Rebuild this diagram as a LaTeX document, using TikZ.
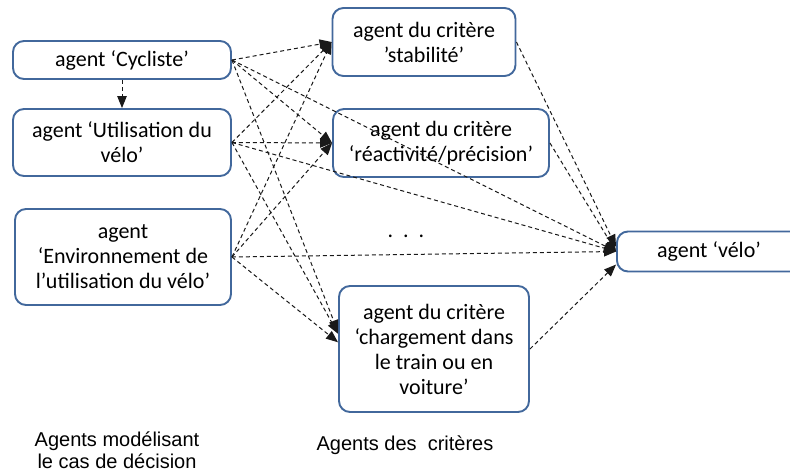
\documentclass[tikz,border=0pt]{standalone}
\usepackage{fontspec}
\setmainfont{Carlito}
\newfontfamily\capfont{Liberation Sans}
\usetikzlibrary{arrows.meta}
\definecolor{boxblue}{RGB}{66,104,156}
\tikzset{
  agentbox/.style={draw=boxblue, line width=1.9pt, rounded corners=11pt, fill=white,
    align=center, inner sep=0pt, font=\fontsize{22}{25}\selectfont, text=black},
  link/.style={draw=black!90, line width=1pt, dash pattern=on 4pt off 3pt,
    -{Triangle[length=12pt,width=9.5pt]}},
  caption/.style={align=center, font=\capfont\fontsize{20}{22}\selectfont, text=black, inner sep=0pt}
}
\begin{document}
\begin{tikzpicture}[x=1pt,y=-1pt]
\useasboundingbox (0,0) rectangle (790,476);
\fill[white] (0,0) rectangle (790,476);
\begin{scope}
\clip (0,0) rectangle (790,476);
\node[agentbox, minimum width=218pt, minimum height=38pt] (cyc) at (122,60) {agent ‘Cycliste’};
\node[agentbox, minimum width=218pt, minimum height=67pt] (uti) at (122,142.5) {agent ‘Utilisation du\\vélo’};
\node[agentbox, minimum width=216pt, minimum height=96pt] (env) at (123,257) {agent\\‘Environnement de\\l’utilisation du vélo’};
\node[agentbox, minimum width=183pt, minimum height=68pt] (sta) at (424,42) {agent du critère\\’stabilité’};
\node[agentbox, minimum width=216pt, minimum height=68pt] (rea) at (441,143) {agent du critère\\‘réactivité/précision’};
\node[agentbox, minimum width=190pt, minimum height=126pt] (cha) at (434,349) {agent du critère\\‘chargement dans\\le train ou en\\voiture’};
\node[agentbox, minimum width=184pt, minimum height=40pt] (vel) at (709,251.5) {agent ‘vélo’};
\end{scope}
\node[inner sep=0pt, font=\fontsize{22}{25}\selectfont] (dots) at (406,236) {.\ \ .\ \ .};
\node[caption] (cap1) at (117,450) {Agents modélisant\\le cas de décision};
\node[caption] (cap2) at (405,445) {Agents des\ \ critères};

\draw[link] (cyc.south) -- (uti.north);
\foreach \s in {cyc,uti,env}{
  \draw[link] (\s.east) -- (sta.west);
  \draw[link] (\s.east) -- (rea.west);
  \draw[link] (\s.east) -- (vel.west);
}
\draw[link] (cyc.east) -- (cha.170);
\draw[link] (uti.east) -- (cha.171);
\draw[link] (env.east) -- (cha.176);
\draw[link] (sta.east) -- (vel.177);
\draw[link] (rea.east) -- (vel.west);
\draw[link] (cha.east) -- (vel.188);
\end{tikzpicture}
\end{document}
